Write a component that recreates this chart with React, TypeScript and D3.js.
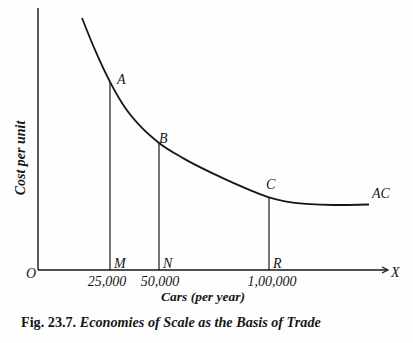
import React from "react";
import * as d3 from "d3";

// Output levels (cars per year) marked on the X axis
const outputs = [25000, 50000, 100000];
const tickLabels = ["25,000", "50,000", "1,00,000"];
const pointLabels = ["A", "B", "C"];
const footLabels = ["M", "N", "R"];
// Average cost per unit at the marked outputs (arbitrary units)
const pointCosts = [71.8, 48.5, 27.7];

// Average cost curve (AC) samples
const curveOutput = [15280, 19790, 25000, 32650, 41330, 50000, 60910, 76360, 91360, 100000, 106050, 113990, 124580, 137820];
const curveCost = [96.2, 84.0, 71.8, 62.0, 54.2, 48.5, 42.7, 36.1, 30.5, 27.7, 26.2, 25.2, 24.8, 25.0];

const W = 413;
const H = 343;
const INK = "#161616";
const SERIF = "'Liberation Serif', 'DejaVu Serif', serif";

export default function App() {
  // schematic (non-proportional) horizontal scale as in the textbook figure
  const x = d3
    .scaleLinear()
    .domain([0, 25000, 50000, 100000, 145000])
    .range([38, 110, 159, 269, 388]);
  const y = d3.scaleLinear().domain([0, 100]).range([270, 8]);

  const line = d3
    .line<number>()
    .x((_, i) => x(curveOutput[i]))
    .y((d) => y(d))
    .curve(d3.curveMonotoneX);
  const path = line(curveCost) || "";

  const labelOffsets = [
    [7, 2],
    [0, 0],
    [-3, -8],
  ];

  return (
    <svg
      width={W}
      height={H}
      viewBox={`0 0 ${W} ${H}`}
      style={{ position: "absolute", left: 0, top: 0, background: "#fefefe" }}
    >
      <rect x={0} y={0} width={W} height={H} fill="#fefefe" />
      {/* axes */}
      <line x1={x(0)} y1={y(0)} x2={x(0)} y2={y(100)} stroke={INK} strokeWidth={1.4} />
      <line x1={x(0)} y1={y(0)} x2={x(145000)} y2={y(0)} stroke={INK} strokeWidth={1.4} />
      <path
        d={`M${x(145000) - 6},${y(0) - 3} L${x(145000)},${y(0)} L${x(145000) - 6},${y(0) + 3}`}
        fill="none"
        stroke={INK}
        strokeWidth={1.2}
      />

      {/* drop lines */}
      {outputs.map((o, i) => (
        <line
          key={"v" + i}
          x1={x(o)}
          x2={x(o)}
          y1={y(0)}
          y2={y(pointCosts[i])}
          stroke={INK}
          strokeWidth={1.2}
        />
      ))}

      {/* AC curve */}
      <path d={path} fill="none" stroke={INK} strokeWidth={1.8} />

      <g fontFamily={SERIF} fill={INK} fontStyle="italic">
        {pointLabels.map((l, i) => (
          <text
            key={"p" + i}
            x={x(outputs[i]) + labelOffsets[i][0]}
            y={y(pointCosts[i]) + labelOffsets[i][1]}
            fontSize={14}
          >
            {l}
          </text>
        ))}
        {footLabels.map((l, i) => (
          <text key={"f" + i} x={x(outputs[i]) + 4} y={y(0) - 2} fontSize={14}>
            {l}
          </text>
        ))}
        {tickLabels.map((l, i) => (
          <text
            key={"t" + i}
            x={x(outputs[i]) + (i === 0 ? -3 : i === 2 ? 3 : 1)}
            y={y(0) + 16}
            fontSize={14}
            textAnchor="middle"
          >
            {l}
          </text>
        ))}
        <text x={372} y={198} fontSize={14}>
          AC
        </text>
        <text x={26} y={278} fontSize={14}>
          O
        </text>
        <text x={391} y={277} fontSize={14}>
          X
        </text>
        <text x={203} y={301} fontSize={13.5} fontWeight="bold" textAnchor="middle">
          Cars (per year)
        </text>
        <text
          transform="translate(25,158) rotate(-90)"
          fontSize={14}
          fontWeight="bold"
          textAnchor="middle"
        >
          Cost per unit
        </text>
      </g>

      <text x={21} y={327} fontFamily={SERIF} fontSize={14.2} fill={INK} fontWeight="bold">
        <tspan>Fig. 23.7. </tspan>
        <tspan fontStyle="italic">Economies of Scale as the Basis of Trade</tspan>
      </text>
    </svg>
  );
}
